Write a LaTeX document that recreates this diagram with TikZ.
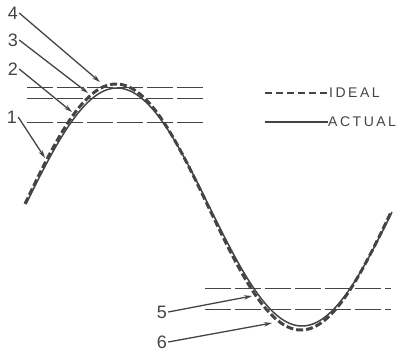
\documentclass[tikz,border=0pt]{standalone}
\usepackage{fontspec}
\setmainfont{Liberation Sans}
\newfontfamily\legendfont[LetterSpace=18]{Liberation Sans}
\usepackage{tikz}
\usetikzlibrary{arrows.meta}
\definecolor{ink}{HTML}{444444}

\begin{document}
\begin{tikzpicture}[x=1pt,y=-1pt,>={Stealth[length=8pt,width=4.5pt]},
  ideal/.style={ink,line width=3pt,dash pattern=on 7pt off 3pt},
  actual/.style={ink,line width=1.5pt},
  level/.style={ink,line width=0.9pt,dash pattern=on 26pt off 4pt},
  num/.style={ink,font=\fontsize{18}{18}\selectfont,inner sep=1pt},
  tag/.style={ink,font=\legendfont\fontsize{14}{14}\selectfont,anchor=west,inner sep=0pt},
  pointer/.style={ink,->,line width=1.3pt}]
  \useasboundingbox (0,0) rectangle (401,353);
  \draw[level] (27,87)--(205,87);
  \draw[level] (27,98)--(205,98);
  \draw[level] (27,122)--(205,122);
  \draw[level] (205,288)--(391,288);
  \draw[level] (205,309)--(391,309);
  \draw[actual] plot[domain=26:392,samples=150,smooth] (\x,{207-119*sin(0.97297*(\x-24.5))});
  \draw[ideal] plot[domain=25:391,samples=150,smooth] (\x,{207-123*sin(0.97297*(\x-23.5))});
  \node[num] (l4) at (13,13) {4};
  \node[num] (l3) at (13,40) {3};
  \node[num] (l2) at (13,69) {2};
  \node[num] (l1) at (12,117) {1};
  \node[num] (l5) at (162,312) {5};
  \node[num] (l6) at (162,342) {6};
  \coordinate (t4) at (100,82);
  \coordinate (t3) at (88,93);
  \coordinate (t2) at (72,112);
  \coordinate (t1) at (45,158);
  \coordinate (t5) at (252,296);
  \coordinate (t6) at (272,323);
  \draw[pointer] (l4.east) -- (t4);
  \draw[pointer] (l3.east) -- (t3);
  \draw[pointer] (l2.east) -- (t2);
  \draw[pointer] (l1.east) -- (t1);
  \draw[pointer] (l5.east) -- (t5);
  \draw[pointer] (l6.east) -- (t6);
  \coordinate (k1) at (265,93);
  \coordinate (k2) at (265,122);
  \node[tag] (ideal) at (329,93) {IDEAL};
  \node[tag] (actual) at (328,122) {ACTUAL};
  \draw[ink,line width=1.6pt,dash pattern=on 7pt off 4pt,shorten >=2pt] (k1) -- (ideal.west);
  \draw[ink,line width=1.6pt] (k2) -- (actual.west);
\end{tikzpicture}
\end{document}
